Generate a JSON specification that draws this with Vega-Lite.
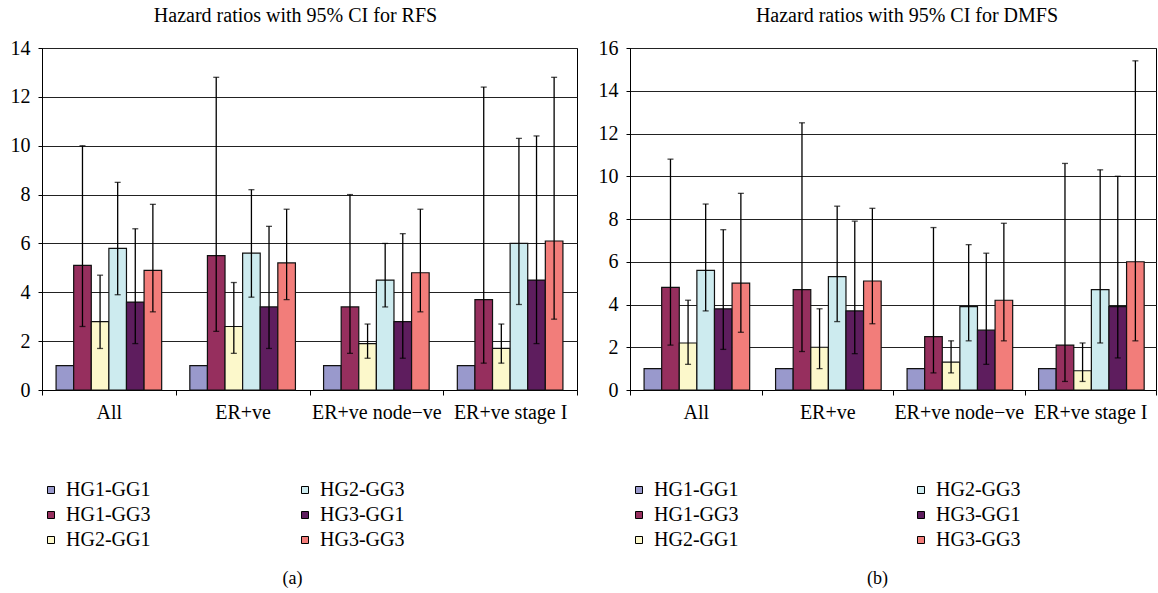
{
  "$schema": "https://vega.github.io/schema/vega-lite/v6.json",
  "padding": {"left": 9, "top": 5, "right": 0, "bottom": 0},
  "background": "white",
  "spacing": 19,
  "config": {
    "font": "Liberation Serif",
    "view": {"stroke": "black", "strokeWidth": 1},
    "axis": {
      "labelFont": "Liberation Serif", "labelFontSize": 20, "labelColor": "black",
      "domainColor": "black", "tickColor": "black", "gridColor": "#222",
      "titleFont": "Liberation Serif", "titleFontSize": 18, "titleFontWeight": "normal", "titleColor": "black"
    },
    "title": {"font": "Liberation Serif", "fontSize": 20, "fontWeight": "normal", "color": "black", "offset": 12},
    "legend": {
      "orient": "none", "columns": 2, "title": null, "symbolType": "square", "symbolSize": 49,
      "symbolStrokeColor": "black", "symbolStrokeWidth": 1, "labelFont": "Liberation Serif",
      "labelFontSize": 20, "labelColor": "black", "labelOffset": 5, "rowPadding": 5
    }
  },
  "datasets": {
    "d": [
      {"p": "RFS", "c": "All", "g": "HG1-GG1", "hr": 1, "lo": null, "hi": null},
      {"p": "RFS", "c": "All", "g": "HG1-GG3", "hr": 5.1, "lo": 2.6, "hi": 10.0},
      {"p": "RFS", "c": "All", "g": "HG2-GG1", "hr": 2.8, "lo": 1.7, "hi": 4.7},
      {"p": "RFS", "c": "All", "g": "HG2-GG3", "hr": 5.8, "lo": 3.9, "hi": 8.5},
      {"p": "RFS", "c": "All", "g": "HG3-GG1", "hr": 3.6, "lo": 1.9, "hi": 6.6},
      {"p": "RFS", "c": "All", "g": "HG3-GG3", "hr": 4.9, "lo": 3.2, "hi": 7.6},
      {"p": "RFS", "c": "ER+ve", "g": "HG1-GG1", "hr": 1, "lo": null, "hi": null},
      {"p": "RFS", "c": "ER+ve", "g": "HG1-GG3", "hr": 5.5, "lo": 2.4, "hi": 12.8},
      {"p": "RFS", "c": "ER+ve", "g": "HG2-GG1", "hr": 2.6, "lo": 1.5, "hi": 4.4},
      {"p": "RFS", "c": "ER+ve", "g": "HG2-GG3", "hr": 5.6, "lo": 3.8, "hi": 8.2},
      {"p": "RFS", "c": "ER+ve", "g": "HG3-GG1", "hr": 3.4, "lo": 1.7, "hi": 6.7},
      {"p": "RFS", "c": "ER+ve", "g": "HG3-GG3", "hr": 5.2, "lo": 3.7, "hi": 7.4},
      {"p": "RFS", "c": "ER+ve node−ve", "g": "HG1-GG1", "hr": 1, "lo": null, "hi": null},
      {"p": "RFS", "c": "ER+ve node−ve", "g": "HG1-GG3", "hr": 3.4, "lo": 1.5, "hi": 8.0},
      {"p": "RFS", "c": "ER+ve node−ve", "g": "HG2-GG1", "hr": 1.9, "lo": 1.3, "hi": 2.7},
      {"p": "RFS", "c": "ER+ve node−ve", "g": "HG2-GG3", "hr": 4.5, "lo": 3.4, "hi": 6.0},
      {"p": "RFS", "c": "ER+ve node−ve", "g": "HG3-GG1", "hr": 2.8, "lo": 1.3, "hi": 6.4},
      {"p": "RFS", "c": "ER+ve node−ve", "g": "HG3-GG3", "hr": 4.8, "lo": 3.2, "hi": 7.4},
      {"p": "RFS", "c": "ER+ve stage I", "g": "HG1-GG1", "hr": 1, "lo": null, "hi": null},
      {"p": "RFS", "c": "ER+ve stage I", "g": "HG1-GG3", "hr": 3.7, "lo": 1.1, "hi": 12.4},
      {"p": "RFS", "c": "ER+ve stage I", "g": "HG2-GG1", "hr": 1.7, "lo": 1.1, "hi": 2.7},
      {"p": "RFS", "c": "ER+ve stage I", "g": "HG2-GG3", "hr": 6.0, "lo": 3.5, "hi": 10.3},
      {"p": "RFS", "c": "ER+ve stage I", "g": "HG3-GG1", "hr": 4.5, "lo": 1.9, "hi": 10.4},
      {"p": "RFS", "c": "ER+ve stage I", "g": "HG3-GG3", "hr": 6.1, "lo": 2.9, "hi": 12.8},
      {"p": "DMFS", "c": "All", "g": "HG1-GG1", "hr": 1, "lo": null, "hi": null},
      {"p": "DMFS", "c": "All", "g": "HG1-GG3", "hr": 4.8, "lo": 2.1, "hi": 10.8},
      {"p": "DMFS", "c": "All", "g": "HG2-GG1", "hr": 2.2, "lo": 1.2, "hi": 4.2},
      {"p": "DMFS", "c": "All", "g": "HG2-GG3", "hr": 5.6, "lo": 3.7, "hi": 8.7},
      {"p": "DMFS", "c": "All", "g": "HG3-GG1", "hr": 3.8, "lo": 1.9, "hi": 7.5},
      {"p": "DMFS", "c": "All", "g": "HG3-GG3", "hr": 5.0, "lo": 2.7, "hi": 9.2},
      {"p": "DMFS", "c": "ER+ve", "g": "HG1-GG1", "hr": 1, "lo": null, "hi": null},
      {"p": "DMFS", "c": "ER+ve", "g": "HG1-GG3", "hr": 4.7, "lo": 1.8, "hi": 12.5},
      {"p": "DMFS", "c": "ER+ve", "g": "HG2-GG1", "hr": 2.0, "lo": 1.0, "hi": 3.8},
      {"p": "DMFS", "c": "ER+ve", "g": "HG2-GG3", "hr": 5.3, "lo": 3.2, "hi": 8.6},
      {"p": "DMFS", "c": "ER+ve", "g": "HG3-GG1", "hr": 3.7, "lo": 1.7, "hi": 7.9},
      {"p": "DMFS", "c": "ER+ve", "g": "HG3-GG3", "hr": 5.1, "lo": 3.1, "hi": 8.5},
      {"p": "DMFS", "c": "ER+ve node−ve", "g": "HG1-GG1", "hr": 1, "lo": null, "hi": null},
      {"p": "DMFS", "c": "ER+ve node−ve", "g": "HG1-GG3", "hr": 2.5, "lo": 0.8, "hi": 7.6},
      {"p": "DMFS", "c": "ER+ve node−ve", "g": "HG2-GG1", "hr": 1.3, "lo": 0.8, "hi": 2.3},
      {"p": "DMFS", "c": "ER+ve node−ve", "g": "HG2-GG3", "hr": 3.9, "lo": 2.3, "hi": 6.8},
      {"p": "DMFS", "c": "ER+ve node−ve", "g": "HG3-GG1", "hr": 2.8, "lo": 1.2, "hi": 6.4},
      {"p": "DMFS", "c": "ER+ve node−ve", "g": "HG3-GG3", "hr": 4.2, "lo": 2.3, "hi": 7.8},
      {"p": "DMFS", "c": "ER+ve stage I", "g": "HG1-GG1", "hr": 1, "lo": null, "hi": null},
      {"p": "DMFS", "c": "ER+ve stage I", "g": "HG1-GG3", "hr": 2.1, "lo": 0.4, "hi": 10.6},
      {"p": "DMFS", "c": "ER+ve stage I", "g": "HG2-GG1", "hr": 0.9, "lo": 0.4, "hi": 2.2},
      {"p": "DMFS", "c": "ER+ve stage I", "g": "HG2-GG3", "hr": 4.7, "lo": 2.2, "hi": 10.3},
      {"p": "DMFS", "c": "ER+ve stage I", "g": "HG3-GG1", "hr": 3.9, "lo": 1.5, "hi": 10.0},
      {"p": "DMFS", "c": "ER+ve stage I", "g": "HG3-GG3", "hr": 6.0, "lo": 2.3, "hi": 15.4}
    ]
  },
  "resolve": {"scale": {"color": "independent", "y": "independent"}, "legend": {"color": "independent"}},
  "hconcat": [
    {
      "width": 535, "height": 342,
      "title": {"text": "Hazard ratios with 95% CI for RFS", "dx": -14},
      "data": {"name": "d"},
      "transform": [{"filter": "datum.p == 'RFS'"}],
      "encoding": {
        "x": {"field": "c", "type": "nominal", "sort": ["All", "ER+ve", "ER+ve node−ve", "ER+ve stage I"],
          "scale": {"paddingInner": 0, "paddingOuter": 0},
          "axis": {"title": "(a)", "labelAngle": 0, "tickBand": "extent", "tickSize": 5, "labelPadding": 7, "titleX": 250, "titlePadding": 147}},
        "xOffset": {"field": "g", "type": "nominal",
          "scale": {"domain": ["HG1-GG1", "HG1-GG3", "HG2-GG1", "HG2-GG3", "HG3-GG1", "HG3-GG3"], "paddingInner": 0, "paddingOuter": 0.8}}
      },
      "layer": [
        {
          "mark": {"type": "bar", "stroke": "#111", "strokeWidth": 1.2},
          "encoding": {
            "y": {"field": "hr", "type": "quantitative", "scale": {"domain": [0, 14], "nice": false},
              "axis": {"values": [0, 2, 4, 6, 8, 10, 12, 14], "title": null, "grid": true, "tickSize": 4, "labelPadding": 8}},
            "color": {"field": "g", "type": "nominal",
              "scale": {"domain": ["HG1-GG1", "HG1-GG3", "HG2-GG1", "HG2-GG3", "HG3-GG1", "HG3-GG3"],
                "range": ["#9999cc", "#962f5e", "#fcf8cb", "#cdebef", "#5e1d5e", "#f27d7a"]},
              "legend": {"legendX": -1, "legendY": 432, "columnPadding": 144}}
          }
        },
        {
          "transform": [{"filter": "datum.lo != null"}],
          "mark": {"type": "rule", "color": "black", "strokeWidth": 1.3},
          "encoding": {"y": {"field": "lo", "type": "quantitative"}, "y2": {"field": "hi"}}
        },
        {
          "transform": [{"filter": "datum.lo != null"}],
          "mark": {"type": "tick", "color": "black", "size": 6, "thickness": 1.3},
          "encoding": {"y": {"field": "lo", "type": "quantitative"}}
        },
        {
          "transform": [{"filter": "datum.lo != null"}],
          "mark": {"type": "tick", "color": "black", "size": 6, "thickness": 1.3},
          "encoding": {"y": {"field": "hi", "type": "quantitative"}}
        }
      ]
    },
    {
      "width": 526, "height": 342,
      "title": {"text": "Hazard ratios with 95% CI for DMFS", "dx": 14},
      "data": {"name": "d"},
      "transform": [{"filter": "datum.p == 'DMFS'"}],
      "encoding": {
        "x": {"field": "c", "type": "nominal", "sort": ["All", "ER+ve", "ER+ve node−ve", "ER+ve stage I"],
          "scale": {"paddingInner": 0, "paddingOuter": 0},
          "axis": {"title": "(b)", "labelAngle": 0, "tickBand": "extent", "tickSize": 5, "labelPadding": 7, "titleX": 247, "titlePadding": 147}},
        "xOffset": {"field": "g", "type": "nominal",
          "scale": {"domain": ["HG1-GG1", "HG1-GG3", "HG2-GG1", "HG2-GG3", "HG3-GG1", "HG3-GG3"], "paddingInner": 0, "paddingOuter": 0.8}}
      },
      "layer": [
        {
          "mark": {"type": "bar", "stroke": "#111", "strokeWidth": 1.2},
          "encoding": {
            "y": {"field": "hr", "type": "quantitative", "scale": {"domain": [0, 16], "nice": false},
              "axis": {"values": [0, 2, 4, 6, 8, 10, 12, 14, 16], "title": null, "grid": true, "tickSize": 4, "labelPadding": 8}},
            "color": {"field": "g", "type": "nominal",
              "scale": {"domain": ["HG1-GG1", "HG1-GG3", "HG2-GG1", "HG2-GG3", "HG3-GG1", "HG3-GG3"],
                "range": ["#9999cc", "#962f5e", "#fcf8cb", "#cdebef", "#5e1d5e", "#f27d7a"]},
              "legend": {"legendX": -1, "legendY": 432, "columnPadding": 172}}
          }
        },
        {
          "transform": [{"filter": "datum.lo != null"}],
          "mark": {"type": "rule", "color": "black", "strokeWidth": 1.3},
          "encoding": {"y": {"field": "lo", "type": "quantitative"}, "y2": {"field": "hi"}}
        },
        {
          "transform": [{"filter": "datum.lo != null"}],
          "mark": {"type": "tick", "color": "black", "size": 6, "thickness": 1.3},
          "encoding": {"y": {"field": "lo", "type": "quantitative"}}
        },
        {
          "transform": [{"filter": "datum.lo != null"}],
          "mark": {"type": "tick", "color": "black", "size": 6, "thickness": 1.3},
          "encoding": {"y": {"field": "hi", "type": "quantitative"}}
        }
      ]
    }
  ]
}
